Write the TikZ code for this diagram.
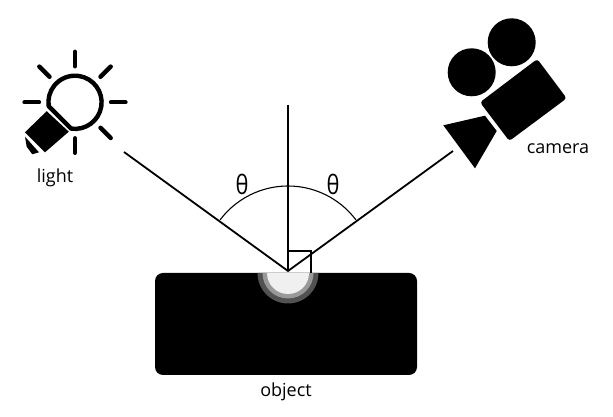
\documentclass[tikz,border=0pt]{standalone}
\usepackage{fontspec}
\setmainfont{Open Sans}
\usetikzlibrary{calc}
\tikzset{
  beam/.style={line width=1.8pt},
  label/.style={inner sep=0pt,font=\fontsize{18}{20}\selectfont},
  angle label/.style={inner sep=0pt,font=\fontsize{23}{25}\selectfont,yscale=1.15,xscale=.95},
  ray/.style={line width=4.4pt,line cap=round}
}
\begin{document}
\begin{tikzpicture}[x=1pt,y=1pt]
\useasboundingbox (0,0) rectangle (613,417);
\coordinate (apex) at (288,146);
\coordinate (top) at (288,312);
\coordinate (bulb) at (75,314.7);
\coordinate (from_light) at (124,265);
\coordinate (to_camera) at (453,266);
\node[fill=black,rounded corners=8pt,minimum width=262pt,minimum height=102pt,inner sep=0pt] (object) at (286,93) {};
\foreach \r/\c in {30.5/black!68,25.5/black!40,21/black!6} {
  \fill[\c] (288-\r,144) arc[start angle=180,end angle=360,radius=\r pt] -- cycle;
}
\draw[beam] (from_light) -- (apex) -- (to_camera);
\draw[beam] (top) -- (apex);
\draw[line width=1.1pt] ($(apex)+(143:85pt)$) arc[start angle=143,end angle=37,radius=85pt];
\draw[line width=1.8pt] (288,166) -- (311,166) -- (311,144);
\node[angle label] (theta_l) at (242,233) {θ};
\node[angle label] (theta_r) at (333,233) {θ};
\draw[line width=4.4pt,line join=round] ($(bulb)+(261.4:26.6pt)$) arc[start angle=261.4,end angle=548.6,radius=26.6pt] -- cycle;
\foreach \a in {0,45,90,135,180,270,315} {
  \draw[ray] ($(bulb)+(\a:36pt)$) -- ($(bulb)+(\a:50.5pt)$);
}
\fill (46.7,305.8) -- (25,284.7) -- (45,264.7) -- (68.8,285.3) -- cycle;
\fill (25,280.3) -- (39,264.7) -- (32.3,262.7) -- (26.7,270.3) -- cycle;
\node[label] (light) at (55,239) {light};
\fill (511.7,374.7) circle (24pt);
\fill (471.7,344.7) circle (24pt);
\fill[rounded corners=3pt] (537.3,358) -- (566.7,318.7) -- (509.3,276) -- (480,314.7) -- cycle;
\fill (443.3,291.7) -- (485,301.3) -- (496.7,286) -- (475,248.7) -- cycle;
\node[label] (camera) at (558,268) {camera};
\node[label] (object_text) at (286,25) {object};
\end{tikzpicture}
\end{document}
